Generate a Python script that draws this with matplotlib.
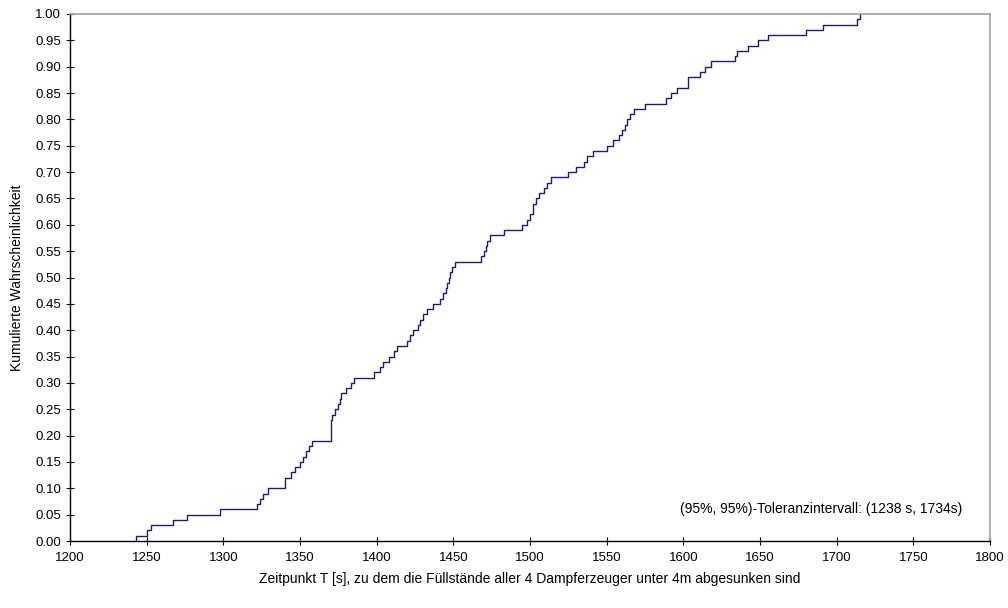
import matplotlib
matplotlib.use("Agg")
import matplotlib.pyplot as plt
from matplotlib.ticker import MultipleLocator, FormatStrFormatter

plt.rcParams['font.family'] = ['Liberation Sans', 'DejaVu Sans']

# sorted times T [s] at which the empirical CDF jumps by 0.01
times = [1243, 1250, 1253, 1267, 1276, 1298, 1322, 1324, 1326, 1329,
         1340, 1340, 1344, 1347, 1350, 1352, 1354, 1356, 1358, 1370,
         1370, 1370, 1370, 1371, 1373, 1375, 1376, 1377, 1380, 1383,
         1385, 1398, 1402, 1404, 1408, 1411, 1413, 1420, 1422, 1424,
         1427, 1428, 1430, 1433, 1437, 1441, 1443, 1445, 1446, 1447,
         1448, 1449, 1451, 1468, 1470, 1471, 1472, 1474, 1483, 1495,
         1498, 1500, 1502, 1502, 1504, 1506, 1509, 1511, 1514, 1525,
         1530, 1535, 1537, 1541, 1550, 1554, 1558, 1560, 1562, 1563,
         1565, 1568, 1575, 1589, 1592, 1596, 1603, 1603, 1611, 1614,
         1618, 1634, 1635, 1642, 1649, 1655, 1680, 1691, 1713, 1715]
levels = [(i + 1) / 100 for i in range(len(times))]

note = "(95%, 95%)-Toleranzintervall: (1238 s, 1734s)"

fig = plt.figure(figsize=(10.08, 6.08), dpi=100)
ax = fig.add_axes([70 / 1008, 67 / 608, 920 / 1008, 527 / 608])

ax.step([times[0]] + times, [0] + levels, where='post', color='#1a1a80', lw=1.0)

ax.set_xlim(1200, 1800)
ax.set_ylim(0, 1)
ax.xaxis.set_major_locator(MultipleLocator(50))
ax.yaxis.set_major_locator(MultipleLocator(0.05))
ax.yaxis.set_major_formatter(FormatStrFormatter('%.2f'))
ax.tick_params(direction='inout', length=6, width=0.8, labelsize=9.5, colors='black')
ax.tick_params(axis='x', pad=5)

for s in ['top', 'right']:
    ax.spines[s].set_color('#a0a0a0')
    ax.spines[s].set_linewidth(1.2)
for s in ['left', 'bottom']:
    ax.spines[s].set_color('black')
    ax.spines[s].set_linewidth(1.0)

ax.set_xlabel("Zeitpunkt T [s], zu dem die Füllstände aller 4 Dampferzeuger unter 4m abgesunken sind",
              fontsize=10, labelpad=6)
ax.set_ylabel("Kumulierte Wahrscheinlichkeit", fontsize=10, labelpad=8)

ax.text(1782, 0.06, note, ha='right', va='center', fontsize=10)

fig.savefig("out.png", dpi=100)
